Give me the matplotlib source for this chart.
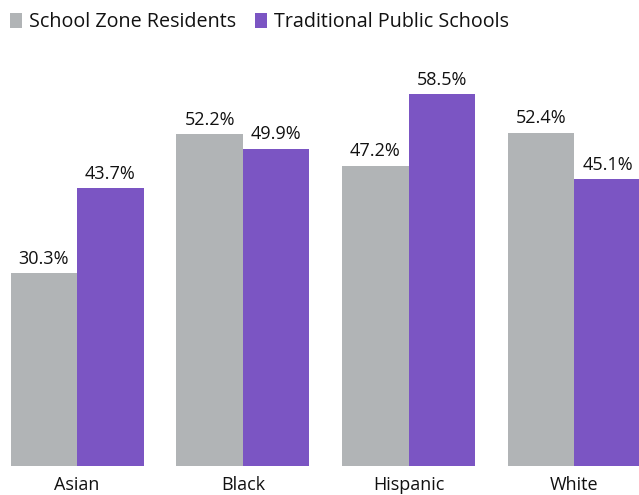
import matplotlib.pyplot as plt
import numpy as np

categories = ["Asian", "Black", "Hispanic", "White"]
residents = [30.3, 52.2, 47.2, 52.4]
public_schools = [43.7, 49.9, 58.5, 45.1]
series_names = ["School Zone Residents", "Traditional Public Schools"]

gray = "#b1b4b6"
purple = "#7b55c3"

plt.rcParams['font.family'] = ['Open Sans', 'DejaVu Sans']

fig = plt.figure(figsize=(6.39, 4.95), dpi=100)
ax = fig.add_axes([0, 29 / 495, 1, 466 / 495])

x = np.arange(len(categories))
w = 0.401
b1 = ax.bar(x - w / 2, residents, w, color=gray, label=series_names[0])
b2 = ax.bar(x + w / 2, public_schools, w, color=purple, label=series_names[1])

for bars, vals in [(b1, residents), (b2, public_schools)]:
    for rect, v in zip(bars, vals):
        ax.annotate(f"{v}%", (rect.get_x() + rect.get_width() / 2, v),
                    xytext=(0, 4), textcoords="offset points",
                    ha="center", va="bottom", fontsize=13, color="#111111")

ax.set_xlim(-0.465, 3.39)
ax.set_ylim(0, 73.3)
ax.set_xticks(x)
ax.set_xticklabels(categories, fontsize=13, color="#111111")
ax.tick_params(axis="x", length=0, pad=7)
ax.set_yticks([])
for s in ax.spines.values():
    s.set_visible(False)

fig.legend(handles=[b1, b2], loc="upper left", bbox_to_anchor=(0.0, 0.995),
           ncol=2, frameon=False, fontsize=14.2, handlelength=0.6,
           handleheight=0.75, handletextpad=0.35, columnspacing=1.0,
           borderaxespad=0.1, labelcolor="#111111")

fig.savefig("out.png", dpi=100)
